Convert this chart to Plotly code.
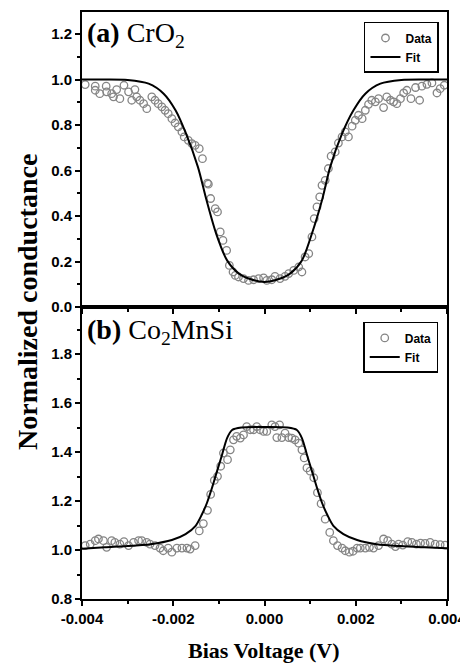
import plotly.graph_objects as go

MV = 1e-3  # data below are in mV; axis is in V

# ---- panel (a) CrO2 ----
a_data_mv = [-3.93, -3.71, -3.71, -3.61, -3.47, -3.46, -3.35, -3.31, -3.24, -3.17, -3.08, -2.98, -2.91,
             -2.84, -2.80, -2.73, -2.65, -2.58, -2.47, -2.40, -2.33, -2.25, -2.18, -2.11, -2.03, -1.96,
             -1.89, -1.81, -1.76, -1.67, -1.59, -1.52, -1.43, -1.36, -1.25, -1.23, -1.18, -1.08, -1.03,
             -0.97, -0.91, -0.83, -0.77, -0.69, -0.64, -0.57, -0.46, -0.35, -0.24, -0.13, -0.02, 0.05,
             0.16, 0.23, 0.34, 0.45, 0.53, 0.64, 0.75, 0.82, 0.89, 0.97, 1.04, 1.09, 1.15, 1.21, 1.26,
             1.33, 1.40, 1.46, 1.55, 1.62, 1.70, 1.77, 1.84, 1.92, 1.99, 2.06, 2.14, 2.21, 2.28, 2.35,
             2.43, 2.50, 2.61, 2.68, 2.76, 2.83, 2.90, 2.98, 3.05, 3.12, 3.21, 3.31, 3.40, 3.45, 3.56,
             3.67, 3.78, 3.85, 3.94]
a_data_g = [0.978, 0.971, 0.953, 0.938, 0.971, 0.946, 0.938, 0.924, 0.956, 0.916, 0.975, 0.946, 0.909,
            0.956, 0.924, 0.909, 0.894, 0.872, 0.924, 0.909, 0.894, 0.880, 0.865, 0.850, 0.828, 0.809,
            0.792, 0.770, 0.748, 0.733, 0.718, 0.711, 0.696, 0.652, 0.545, 0.540, 0.477, 0.433, 0.418,
            0.330, 0.293, 0.249, 0.183, 0.154, 0.139, 0.132, 0.125, 0.117, 0.120, 0.125, 0.128, 0.117,
            0.120, 0.135, 0.125, 0.135, 0.147, 0.161, 0.176, 0.154, 0.220, 0.235, 0.308, 0.389, 0.440,
            0.484, 0.535, 0.557, 0.609, 0.663, 0.682, 0.721, 0.748, 0.770, 0.748, 0.795, 0.821, 0.843,
            0.828, 0.865, 0.891, 0.909, 0.902, 0.916, 0.877, 0.924, 0.909, 0.902, 0.894, 0.916, 0.941,
            0.953, 0.916, 0.965, 0.909, 0.971, 0.979, 0.985, 0.941, 0.960, 0.975]
a_fit_mv = [-4.0, -3.5, -3.0, -2.54, -2.21, -1.95, -1.72, -1.46, -1.27, -1.06, -0.82, -0.56, -0.30, 0.0,
            0.30, 0.56, 0.82, 1.04, 1.26, 1.44, 1.70, 1.95, 2.21, 2.54, 3.0, 3.5, 4.0]
a_fit_g = [1.0, 1.0, 0.998, 0.982, 0.938, 0.865, 0.762, 0.616, 0.469, 0.323, 0.205, 0.147, 0.122, 0.110,
           0.122, 0.147, 0.205, 0.323, 0.469, 0.616, 0.762, 0.865, 0.938, 0.982, 0.998, 1.0, 1.0]

# ---- panel (b) Co2MnSi ----
b_data_mv = [-3.93, -3.82, -3.71, -3.64, -3.53, -3.46, -3.35, -3.28, -3.17, -3.08, -2.98, -2.87, -2.76,
             -2.69, -2.58, -2.51, -2.40, -2.29, -2.22, -2.11, -2.03, -1.92, -1.81, -1.70, -1.63, -1.52,
             -1.43, -1.34, -1.25, -1.18, -1.10, -1.03, -0.96, -0.90, -0.81, -0.75, -0.68, -0.61, -0.53,
             -0.46, -0.39, -0.31, -0.24, -0.17, -0.10, -0.02, 0.05, 0.16, 0.23, 0.27, 0.33, 0.38, 0.45,
             0.53, 0.60, 0.67, 0.75, 0.82, 0.87, 0.93, 1.00, 1.08, 1.16, 1.24, 1.33, 1.43, 1.51, 1.60,
             1.70, 1.77, 1.86, 1.94, 2.03, 2.10, 2.21, 2.30, 2.39, 2.50, 2.61, 2.70, 2.79, 2.87, 2.94,
             3.03, 3.14, 3.23, 3.33, 3.42, 3.52, 3.63, 3.74, 3.85, 3.96]
b_data_g = [1.018, 1.024, 1.038, 1.045, 1.038, 1.011, 1.038, 1.031, 1.024, 1.034, 1.018, 1.031, 1.038,
            1.038, 1.031, 1.024, 1.018, 1.008, 0.997, 1.008, 0.991, 1.008, 1.008, 1.008, 1.004, 1.018,
            1.078, 1.108, 1.162, 1.227, 1.284, 1.301, 1.342, 1.396, 1.369, 1.409, 1.450, 1.464, 1.457,
            1.470, 1.504, 1.491, 1.491, 1.504, 1.491, 1.484, 1.484, 1.511, 1.504, 1.459, 1.511, 1.459,
            1.477, 1.459, 1.457, 1.450, 1.436, 1.409, 1.376, 1.335, 1.322, 1.295, 1.234, 1.189, 1.126,
            1.072, 1.038, 1.018, 1.008, 0.997, 0.991, 0.995, 1.008, 1.008, 1.008, 1.011, 1.008, 1.018,
            1.045, 1.038, 1.024, 1.014, 1.024, 1.020, 1.034, 1.031, 1.024, 1.028, 1.027, 1.031, 1.024,
            1.022, 1.020]
b_fit_mv = [-4.0, -3.5, -3.0, -2.5, -2.03, -1.73, -1.51, -1.37, -1.26, -1.15, -1.04, -0.93, -0.82, -0.71,
            -0.5, 0.0, 0.5, 0.71, 0.82, 0.93, 1.04, 1.15, 1.26, 1.37, 1.51, 1.73, 2.03, 2.46, 2.98, 3.5, 4.0]
b_fit_g = [1.005, 1.011, 1.016, 1.024, 1.041, 1.065, 1.099, 1.146, 1.193, 1.254, 1.322, 1.389, 1.457, 1.490,
           1.500, 1.502, 1.500, 1.490, 1.457, 1.389, 1.322, 1.254, 1.193, 1.146, 1.099, 1.065, 1.041, 1.024,
           1.016, 1.011, 1.007]

x_tickvals = [-0.004, -0.002, 0.0, 0.002, 0.004]
x_ticktext = ["-0.004", "-0.002", "0.000", "0.002", "0.004"]
a_ytickvals = [0.0, 0.2, 0.4, 0.6, 0.8, 1.0, 1.2]
a_yticktext = ["0.0", "0.2", "0.4", "0.6", "0.8", "1.0", "1.2"]
b_ytickvals = [0.8, 1.0, 1.2, 1.4, 1.6, 1.8]
b_yticktext = ["0.8", "1.0", "1.2", "1.4", "1.6", "1.8"]

SANS = "Liberation Sans, Arial, sans-serif"
SERIF = "Liberation Serif, Times New Roman, serif"
GRAY = "#858585"

def scale(v):
    return [t * MV for t in v]

fig = go.Figure()
marker = dict(symbol="circle-open", size=7.5, color=GRAY, line=dict(width=1.3, color=GRAY))
fig.add_trace(go.Scatter(x=scale(a_data_mv), y=a_data_g, mode="markers", name="Data",
                         marker=marker, xaxis="x2", yaxis="y2", legend="legend"))
fig.add_trace(go.Scatter(x=scale(a_fit_mv), y=a_fit_g, mode="lines", name="Fit",
                         line=dict(color="black", width=2, shape="spline", smoothing=0.8),
                         xaxis="x2", yaxis="y2", legend="legend"))
fig.add_trace(go.Scatter(x=scale(b_data_mv), y=b_data_g, mode="markers", name="Data",
                         marker=marker, xaxis="x", yaxis="y", legend="legend2"))
fig.add_trace(go.Scatter(x=scale(b_fit_mv), y=b_fit_g, mode="lines", name="Fit",
                         line=dict(color="black", width=2, shape="spline", smoothing=0.8),
                         xaxis="x", yaxis="y", legend="legend2"))

tickfont = dict(family=SANS, size=15, color="black", weight="bold")
axcommon = dict(showline=True, linecolor="black", linewidth=2, mirror=True, showgrid=False,
                zeroline=False, ticks="outside", ticklen=5, tickwidth=1.5, tickcolor="black",
                tickfont=tickfont, automargin=False)
split = 0.4974

# the page body adds an 8 px offset, so the figure is 8 px smaller than the window
fig.update_layout(
    width=460, height=656,
    margin=dict(l=74, r=21, t=4, b=65),
    paper_bgcolor="white", plot_bgcolor="white",
    showlegend=True,
    xaxis=dict(domain=[0, 1], anchor="y", range=[-0.004, 0.004], tickvals=x_tickvals,
               ticktext=x_ticktext, minor=dict(dtick=0.001, ticks="outside", ticklen=3,
                                               tickcolor="black", tickwidth=1.5), **axcommon),
    yaxis=dict(domain=[0, split], anchor="x", range=[0.8, 1.992], tickvals=b_ytickvals,
               ticktext=b_yticktext, minor=dict(tickvals=[0.9, 1.1, 1.3, 1.5, 1.7, 1.9], ticks="outside",
                                                ticklen=3, tickcolor="black", tickwidth=1.5), **axcommon),
    xaxis2=dict(domain=[0, 1], anchor="y2", matches="x", range=[-0.004, 0.004], tickvals=x_tickvals,
                showticklabels=False, minor=dict(dtick=0.001, ticks="outside", ticklen=3,
                                                 tickcolor="black", tickwidth=1.5), **axcommon),
    yaxis2=dict(domain=[split, 1], anchor="x2", range=[0, 1.297], tickvals=a_ytickvals,
                ticktext=a_yticktext, minor=dict(tickvals=[0.1, 0.3, 0.5, 0.7, 0.9, 1.1], ticks="outside",
                                                 ticklen=3, tickcolor="black", tickwidth=1.5), **axcommon),
    legend=dict(x=0.978, xanchor="right", y=0.983, yanchor="top", bordercolor="black", borderwidth=1.5,
                bgcolor="white", font=dict(family=SANS, size=12, color="black", weight="bold"),
                itemwidth=30, tracegroupgap=0),
    legend2=dict(x=0.976, xanchor="right", y=0.472, yanchor="top", bordercolor="black", borderwidth=1.5,
                 bgcolor="white", font=dict(family=SANS, size=12, color="black", weight="bold"),
                 itemwidth=30, tracegroupgap=0),
    annotations=[
        dict(text="<b>(a)</b> CrO<sub>2</sub>", xref="paper", yref="paper", x=0.008, y=0.961,
             xanchor="left", yanchor="middle", showarrow=False,
             font=dict(family=SERIF, size=28, color="black")),
        dict(text="<b>(b)</b> Co<sub>2</sub>MnSi", xref="paper", yref="paper", x=0.008, y=0.455,
             xanchor="left", yanchor="middle", showarrow=False,
             font=dict(family=SERIF, size=28, color="black")),
        dict(text="<b>Normalized conductance</b>", xref="paper", yref="paper", x=-0.148, y=0.506,
             xanchor="center", yanchor="middle", textangle=-90, showarrow=False,
             font=dict(family=SERIF, size=28, color="black")),
        dict(text="<b>Bias Voltage (V)</b>", xref="paper", yref="paper", x=0.499, y=-0.087,
             xanchor="center", yanchor="middle", showarrow=False,
             font=dict(family=SERIF, size=22, color="black")),
    ],
)

fig.write_html("out.html")
